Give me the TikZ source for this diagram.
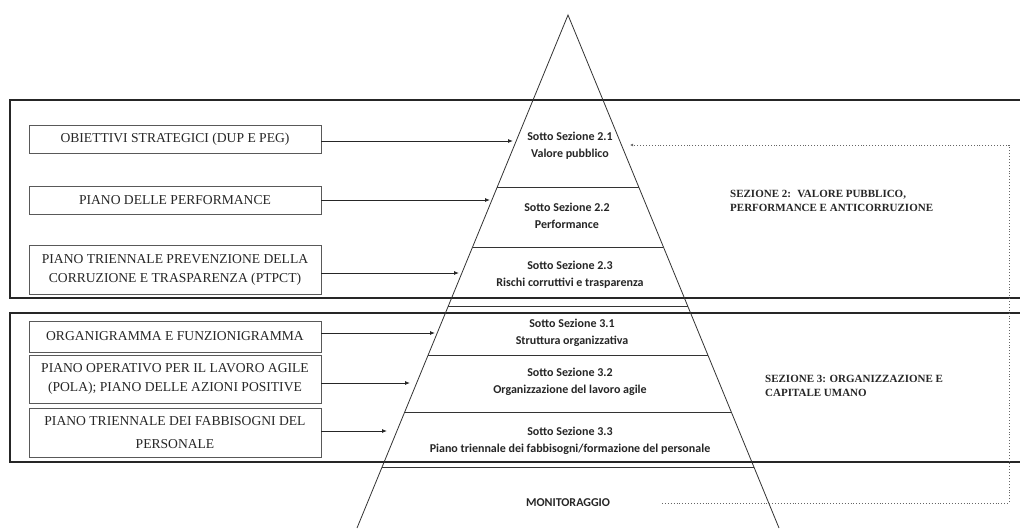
\documentclass[tikz,border=0pt]{standalone}
\usepackage{fontspec}
\setmainfont{Liberation Serif}
\newfontfamily\calfont{Carlito}
\usetikzlibrary{arrows.meta}
\tikzset{
  leftbox/.style={draw=black!65, line width=0.9pt, minimum width=292pt, inner sep=0pt, align=center, font=\fontsize{13.6}{19}\selectfont, text=black!85},
  sectbox/.style={draw=black!85, line width=1.6pt},
  tri/.style={draw=black!80, line width=0.8pt},
  sotto/.style={align=center, inner sep=0pt, font=\calfont\bfseries\fontsize{12}{17}\selectfont, text=black!85},
  sectlabel/.style={anchor=west, align=left, inner sep=0pt, font=\bfseries\fontsize{11}{14}\selectfont, text=black!85},
  feed/.style={draw=black!85, line width=0.9pt, -{Latex[length=5pt,width=4pt]}},
  monline/.style={draw=black!60, line width=0.9pt, dotted, -{Latex[length=3pt,width=3pt]}}
}
\begin{document}
\begin{tikzpicture}[x=1pt,y=-1pt]
\useasboundingbox (0,0) rectangle (1020,528);
\fill[white] (0,0) rectangle (1020,528);
% section boxes
\draw[sectbox] (10,100) rectangle (1030,298);
\draw[sectbox] (10,313) rectangle (1030,462);
% triangle
\coordinate (apex) at (568,15);
\coordinate (bl) at (357,528);
\coordinate (br) at (779,528);
\draw[tri] (bl) -- (apex) -- (br);
\foreach \yy in {187,247,306,355,412,467}{
  \draw[tri] ({568-0.411*(\yy-15)},\yy) -- ({568+0.411*(\yy-15)},\yy);
}
% sotto texts
\node[sotto] (s21) at (570,146) {Sotto Sezione 2.1\\Valore pubblico};
\node[sotto] (s22) at (567,216) {Sotto Sezione 2.2\\Performance};
\node[sotto] (s23) at (570,275) {Sotto Sezione 2.3\\Rischi corruttivi e trasparenza};
\node[sotto] (s31) at (572,333) {Sotto Sezione 3.1\\Struttura organizzativa};
\node[sotto] (s32) at (570,382) {Sotto Sezione 3.2\\Organizzazione del lavoro agile};
\node[sotto] (s33) at (570,441) {Sotto Sezione 3.3\\Piano triennale dei fabbisogni/formazione del personale};
\node[sotto] (mon) at (568,503) {MONITORAGGIO};
% section labels
\node[sectlabel] (sez2) at (730,201) {SEZIONE 2: \ VALORE PUBBLICO,\\PERFORMANCE E ANTICORRUZIONE};
\node[sectlabel] (sez3) at (765,386) {SEZIONE 3: ORGANIZZAZIONE E\\CAPITALE UMANO};
% left boxes
\node[leftbox, minimum height=28pt] (b1) at (175,139) {OBIETTIVI STRATEGICI (DUP E PEG)};
\node[leftbox, minimum height=28pt] (b2) at (175,200) {PIANO DELLE PERFORMANCE};
\node[leftbox, minimum height=49pt] (b3) at (175,269.5) {PIANO TRIENNALE PREVENZIONE DELLA\\CORRUZIONE E TRASPARENZA (PTPCT)};
\node[leftbox, minimum height=31pt] (b4) at (175,336.5) {ORGANIGRAMMA E FUNZIONIGRAMMA};
\node[leftbox, minimum height=48pt] (b5) at (175,379) {PIANO OPERATIVO PER IL LAVORO AGILE\\(POLA); PIANO DELLE AZIONI POSITIVE};
\node[leftbox, minimum height=49pt, font=\fontsize{13.6}{23}\selectfont] (b6) at (175,432.5) {PIANO TRIENNALE DEI FABBISOGNI DEL\\PERSONALE};
% arrows
\coordinate (t1) at (513,141);
\coordinate (t2) at (490,200);
\coordinate (t3) at (459,273);
\coordinate (t4) at (435,333);
\coordinate (t5) at (410,383);
\coordinate (t6) at (387,431);
\draw[feed] (b1.east |- t1) -- (t1);
\draw[feed] (b2.east |- t2) -- (t2);
\draw[feed] (b3.east |- t3) -- (t3);
\draw[feed] (b4.east |- t4) -- (t4);
\draw[feed] (b5.east |- t5) -- (t5);
\draw[feed] (b6.east |- t6) -- (t6);
% monitoring feedback
\coordinate (m0) at (662,503);
\coordinate (m1) at (1009,503);
\coordinate (m2) at (1009,145);
\coordinate (m3) at (630,145);
\draw[monline] (m0) -- (m1) -- (m2) -- (m3);
\end{tikzpicture}
\end{document}
